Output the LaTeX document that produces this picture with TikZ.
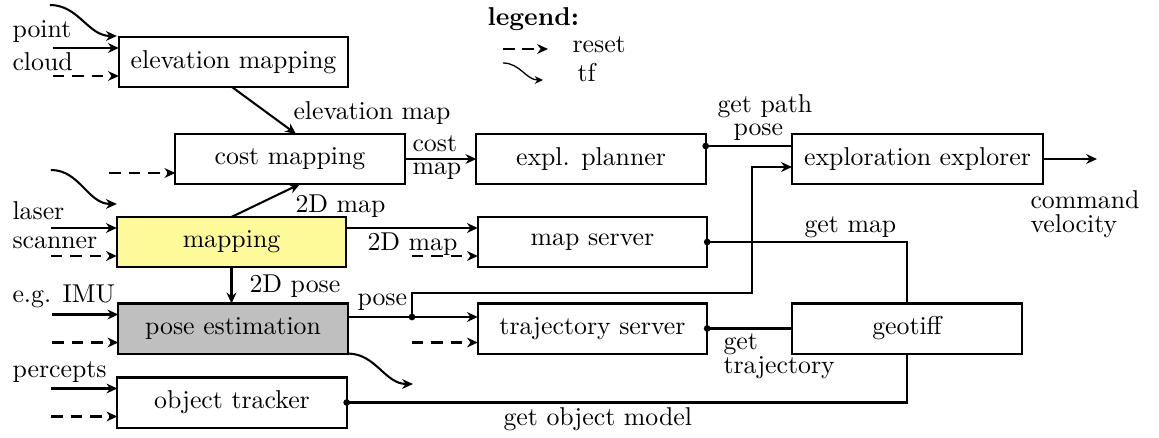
\documentclass[tikz,border=0pt]{standalone}
\usetikzlibrary{arrows.meta,calc}
\begin{document}
\begin{tikzpicture}[x=0.3876pt,y=-0.3876pt,
  box/.style={draw, line width=0.8pt, minimum width=88.9pt, minimum height=19.4pt,
              inner sep=0pt, outer sep=0pt},
  conn/.style={line width=0.8pt, -{Stealth[length=4.2pt,width=3.8pt]}},
  plain/.style={line width=0.8pt},
  resetarrow/.style={conn, dash pattern=on 4.5pt off 3pt},
  tfarrow/.style={conn, out=0, in=180},
  lbl/.style={inner sep=0pt, anchor=base west},
  jdot/.style={fill=black}
]
\useasboundingbox (0,0) rectangle (1159,437);

% processing nodes
\node[box] (elev)      at (233.5,62)   {elevation mapping};
\node[box] (cost)      at (290,159)    {cost mapping};
\node[box] (planner)   at (591,159)    {expl. planner};
\node[box, minimum width=97.3pt] (explorer) at (917.5,159) {exploration explorer};
\node[box, fill=yellow!40] (mapping) at (231.5,242) {mapping};
\node[box] (mapserver) at (592.5,242)  {map server};
\node[box, fill=lightgray] (pose) at (233,328.5) {pose estimation};
\node[box] (traj)      at (592.5,328.5) {trajectory server};
\node[box] (geotiff)   at (907,328.5)  {geotiff};
\node[box] (tracker)   at (232,402.5)  {object tracker};

% sensor inputs and reset inputs on the left
\foreach \n in {elev,mapping,pose,tracker}{
  \draw[conn] ($(\n.west)+(-66,-14)$) -- ($(\n.west)+(0,-14)$);
}
\foreach \n in {elev,mapping,pose,tracker,cost,mapserver,traj}{
  \draw[resetarrow] ($(\n.west)+(-66,14)$) -- ($(\n.west)+(0,14)$);
}

% tf links
\draw[tfarrow] ($(elev.north west)+(-69,-32)$) to ($(elev.north west)+(-2,-1)$);
\draw[tfarrow] ($(mapping.north west)+(-66,-47)$) to ($(mapping.north west)+(0,-13)$);
\coordinate (tfout) at (413,384);
\draw[tfarrow] (pose.south east) to (tfout);

% input labels
\node[lbl] (tpoint)  at (12,37)  {point};
\node[lbl] (tcloud)  at (12,70)  {cloud};
\node[lbl] (tlaser)  at (12,219) {laser};
\node[lbl] (tscan)   at (12,248) {scanner};
\node[lbl] (timu)    at (12,302) {e.g. IMU};
\node[lbl] (tperc)   at (12,377) {percepts};

% data flow between nodes
\draw[conn] ($(elev.south)+(-1.5,0)$) -- ($(cost.north)+(6,0)$);
\node[lbl] (telev) at (293,119) {elevation map};
\draw[conn] (mapping.north) -- ($(cost.south)+(10,0)$);
\node[lbl] (t2dmapa) at (295,212) {2D map};
\draw[conn] (cost.east) -- (planner.west);
\node[lbl] (tcost) at (412,151) {cost};
\node[lbl] (tcmap) at (412,174.5) {map};
\draw[conn] ($(mapping.east)+(0,-14)$) -- ($(mapserver.west)+(0,-14)$);
\node[lbl] (t2dmapb) at (367,250) {2D map};
\draw[conn] (mapping.south) -- (mapping.south |- pose.north);
\node[lbl] (t2dpose) at (249,292) {2D pose};

% pose distribution
\coordinate (pj) at (412,317);
\coordinate (bend) at (752,293);
\draw[conn] ($(pose.east)+(0,-11.5)$) -- ($(traj.west)+(0,-11.5)$);
\draw[conn] (pj) |- (bend) |- ($(explorer.west)+(0,8)$);
\fill[jdot] (pj) circle (1.3pt);
\node[lbl] (tpose) at (357,305) {pose};

% service calls
\draw[plain] ($(planner.east)+(0,-13)$) -- ($(explorer.west)+(0,-13)$);
\fill[jdot] ($(planner.east)+(0,-13)$) circle (1.3pt);
\node[lbl] (tgetpath) at (717,112) {get path};
\node[lbl] (tpathpose) at (733,135) {pose};

\draw[plain] (mapserver.east) -| (geotiff.north);
\fill[jdot] (mapserver.east) circle (1.3pt);
\node[lbl] (tgetmap) at (804,232) {get map};

\draw[plain] (traj.east) -- (geotiff.west);
\fill[jdot] (traj.east) circle (1.3pt);
\node[lbl] (tgett) at (723,349) {get};
\node[lbl] (ttraj) at (723,373) {trajectory};

\draw[plain] (geotiff.south) |- (tracker.east);
\fill[jdot] (tracker.east) circle (1.3pt);
\node[lbl] (tobj) at (503,425) {get object model};

% output command
\coordinate (cmdout) at (1097,159);
\draw[conn] (explorer.east) -- (cmdout);
\node[lbl] (tcmd) at (1030,208) {command};
\node[lbl] (tvel) at (1030,232) {velocity};

% legend
\node[lbl] (tlegend) at (487,25) {\textbf{legend:}};
\coordinate (lr1) at (503,49);
\coordinate (lr2) at (548,49);
\draw[resetarrow] (lr1) -- (lr2);
\node[lbl] (treset) at (572,53) {reset};
\coordinate (lt1) at (503,63);
\coordinate (lt2) at (543,80);
\draw[line width=0.5pt, -{Stealth[length=3.2pt,width=3pt]}] (lt1) to[out=0,in=180] (lt2);
\node[lbl] (ttf) at (577,81) {tf};
\end{tikzpicture}
\end{document}
